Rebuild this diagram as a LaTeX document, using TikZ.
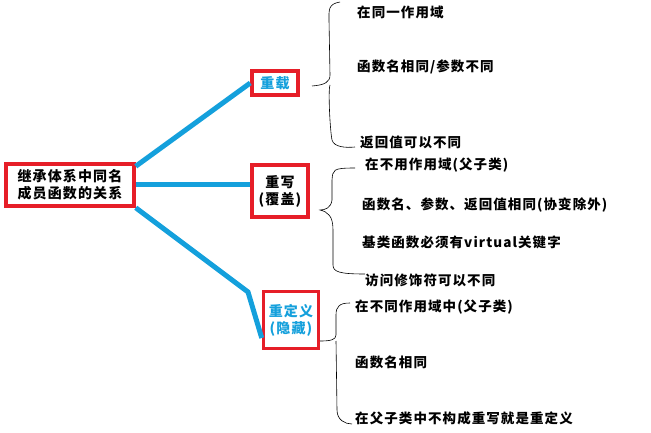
\documentclass[tikz,border=0pt]{standalone}
\usepackage{fontspec}
\setmainfont{Noto Sans CJK SC}[LetterSpace=8]
\definecolor{lb}{RGB}{20,160,220}
\definecolor{rb}{RGB}{230,30,40}
\tikzset{box/.style={draw=rb,line width=3.5pt,fill=white,inner sep=2pt,align=center,font=\bfseries\fontsize{14}{17}\selectfont},
 conn/.style={draw=lb,line width=5pt},
 txt/.style={anchor=west,inner sep=0pt,font=\bfseries\fontsize{13.5}{15}\selectfont},
 br/.style={draw=black,line width=0.6pt}}
\begin{document}
\begin{tikzpicture}[x=1pt,y=-1pt]
\useasboundingbox (0,0) rectangle (651,433);
\fill[white] (0,0) rectangle (651,433);
\node[box,minimum width=128,minimum height=42,inner sep=0pt] (root) at (70,185) {继承体系中同名\\成员函数的关系};
\node[box,text=lb,minimum width=46,minimum height=24] (a) at (275,83) {重载};
\node[box,minimum width=56,minimum height=52,inner sep=0pt] (b) at (280,191) {重写\\(覆盖)};
\node[box,text=lb,minimum width=55,minimum height=57,inner sep=0pt] (c) at (291,320) {重定义\\(隐藏)};
\coordinate (k) at (248,292);
\draw[conn] (root.north east) ++(0,4) -- (a.west);
\draw[conn] (root.east) -- (root.east -| b.west);
\draw[conn] (root.south east) -- (k) -- (c.west |- 0,338);
% braces
\draw[br] (340,2) .. controls (328,4) and (329,10) .. (329,20) -- (330,75) .. controls (330,82) and (325,85) .. (312,86)
  (330,85) .. controls (328,90) and (330,130) .. (332,140) .. controls (334,147) and (345,148) .. (355,147);
\node[txt] (a1) at (357,12) {在同一作用域};
\node[txt] (a2) at (357,67) {函数名相同/参数不同};
\node[txt] (a3) at (360,142) {返回值可以不同};
\draw[br] (355,168) .. controls (332,168) and (333,170) .. (332,180) -- (332,200) .. controls (331,208) and (325,210) .. (320,210)
  .. controls (328,212) and (333,216) .. (333,230) -- (333,265) .. controls (333,272) and (340,274) .. (365,274);
\node[txt] (b1) at (365,165) {在不用作用域(父子类)};
\node[txt] (b2) at (362,205) {函数名、参数、返回值相同(协变除外)};
\node[txt] (b3) at (362,242) {基类函数必须有virtual关键字};
\node[txt] (b4) at (365,280) {访问修饰符可以不同};
\draw[br] (350,303) .. controls (340,303) and (336,306) .. (336,315) -- (336,335) .. controls (336,340) and (330,341) .. (320,341)
  (336,341) -- (337,410) .. controls (337,420) and (345,424) .. (352,424);
\node[txt] (c1) at (355,307) {在不同作用域中(父子类)};
\node[txt] (c2) at (355,362) {函数名相同};
\node[txt] (c3) at (355,418) {在父子类中不构成重写就是重定义};
\end{tikzpicture}
\end{document}
